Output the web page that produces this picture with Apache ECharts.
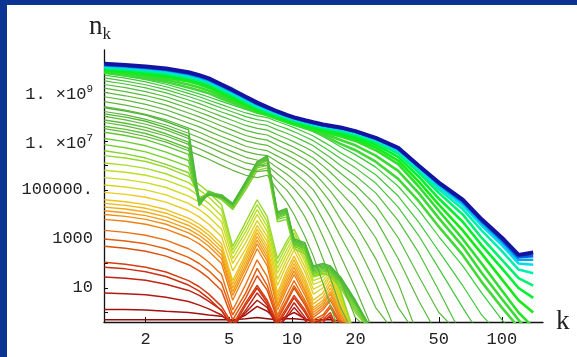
<!DOCTYPE html>
<html><head><meta charset="utf-8">
<script src="https://cdn.jsdelivr.net/npm/echarts@6/dist/echarts.min.js"></script>
<style>
html,body{margin:0;padding:0;background:#0b3493;width:577px;height:357px;overflow:hidden}
#c{position:absolute;left:7px;top:5px;width:570px;height:352px;background:#fff}
</style></head><body><div id="c"></div>
<script>
// wave number k (shared sampling of every curve)
const k = [1.27,1.6,2,2.5,3.2,3.6,4,4.6,5.2,6,6.8,7.6,8.5,9.4,10.2,11.5,12.6,14,15.2,17,20,25,32,40,50,65,80,100,120,141];

// occupation numbers n_k, stored as log10(n_k); curves ordered in time (early -> late)
const redLog10 = [
  [-0.3,-0.3,-0.3,-0.3,-0.3,-0.3,-0.3,-0.3,-0.3,-0.25,-0.2,-0.25,-0.3,-0.25,-0.25,-0.3,-0.3,-0.3,-0.3,-0.35,-1],
  [0.12,0.12,0.1,0.05,0,-0.05,-0.1,-0.15,-0.35,-0.1,0.25,0.05,-0.35,-0.15,0,-0.25,-0.4,-0.3,-0.2,-1],
  [0.8,0.77,0.72,0.62,0.45,0.3,0.15,-0.1,-0.5,0,0.5,0.2,-0.6,-0.2,0.2,-0.3,-1],
  [1.45,1.4,1.32,1.15,0.9,0.7,0.45,0.1,-0.6,0.1,0.8,0.3,-0.6,-0.1,0.4,-0.2,-1],
  [1.85,1.78,1.66,1.47,1.12,0.87,0.57,0.07,-0.6,0.3,1.0,0.4,-0.5,0.1,0.6,0,-0.6,-0.4,-0.1,-1],
  [2.05,1.97,1.85,1.65,1.3,1.05,0.75,0.25,-0.5,0.4,1.1,0.5,-0.4,0.2,0.7,0.1,-0.5,-0.3,0,-1],
  [2.7,2.62,2.5,2.3,1.95,1.7,1.4,0.9,-0.3,0.6,1.5,0.9,-0.3,0.4,1.0,0.3,-0.4,-0.2,0.2,-0.5,-1],
  [3.0,2.92,2.8,2.6,2.25,2.0,1.7,1.2,-0.1,0.8,1.8,1.1,-0.2,0.5,1.1,0.4,-0.3,-0.1,0.3,-0.4,-1]
];
const orangeLog10 = [
  [3.35,3.27,3.15,2.95,2.6,2.35,2.05,1.55,0.1,1.15,2.15,1.45,-0.1,0.7,1.3,0.5,-0.2,0.1,0.5,-0.3,-1],
  [3.8,3.72,3.6,3.4,3.05,2.8,2.5,2.0,0.5,1.6,2.6,1.9,0.1,0.95,1.55,0.7,-0.1,0.2,0.6,-0.2,-1],
  [4.0,3.92,3.8,3.6,3.25,3.0,2.7,2.2,0.7,1.8,2.8,2.1,0.25,1.1,1.7,0.85,0,0.3,0.75,-0.1,-1],
  [4.15,4.07,3.95,3.75,3.4,3.15,2.85,2.35,0.85,1.95,2.95,2.25,0.35,1.25,1.85,0.95,0.1,0.4,0.85,0,-1],
  [4.3,4.22,4.1,3.9,3.55,3.3,3.0,2.5,1.0,2.1,3.1,2.4,0.5,1.4,2.0,1.1,0.2,0.5,1.0,0.05,-1],
  [4.45,4.37,4.25,4.05,3.7,3.45,3.15,2.65,1.15,2.25,3.25,2.55,0.65,1.55,2.15,1.25,0.35,0.65,1.15,0.15,-1],
  [4.6,4.52,4.4,4.2,3.85,3.6,3.3,2.8,1.3,2.4,3.4,2.7,0.8,1.7,2.3,1.4,0.5,0.8,1.3,0.3,-1]
];
const yellowLog10 = [
  [4.9,4.82,4.7,4.5,4.15,3.9,3.6,3.1,1.7,2.6,3.55,2.9,1.1,1.95,2.55,1.65,0.75,1.0,1.45,0.45,-1],
  [5.2,5.12,5.0,4.8,4.45,4.2,3.9,3.4,2.0,2.85,3.75,3.1,1.35,2.15,2.75,1.85,0.95,1.15,1.55,0.55,-1],
  [5.5,5.42,5.3,5.1,4.75,4.5,4.2,3.7,2.2,3.1,4.0,3.3,1.6,2.35,2.95,2.05,1.15,1.3,1.65,0.65,-1],
  [5.8,5.72,5.6,5.4,5.05,4.75,4.45,3.95,2.4,3.3,4.2,3.5,1.8,2.55,3.1,2.2,1.3,1.45,1.75,0.75,-1],
  [6.1,6.01,5.88,5.66,5.3,5.0,4.7,4.2,2.55,3.5,4.4,3.7,2.0,2.75,3.25,2.35,1.45,1.55,1.85,0.85,-1],
  [6.4,6.3,6.16,5.92,5.55,5.22,4.9,4.4,2.7,3.7,4.6,3.9,2.2,2.9,3.4,2.5,1.55,1.65,1.9,0.9,-1]
];
const resonantLog10 = [
  [6.6,6.47,6.3,6.04,5.7,4.7,4.85,4.6,4.2,5.0,5.8,5.9,3.7,3.8,2.6,2.4,1.5,1.6,1.5,1.0,0.0,-1],
  [6.85,6.72,6.55,6.29,5.95,4.6,4.9,4.65,4.25,5.1,5.9,6.0,3.8,3.9,2.7,2.5,1.6,1.7,1.6,1.1,0.1,-1],
  [7.1,6.97,6.8,6.54,6.2,4.5,4.95,4.7,4.3,5.15,5.95,6.1,3.85,4.0,2.75,2.6,1.65,1.75,1.65,1.2,0.2,-1],
  [7.35,7.22,7.05,6.79,6.45,4.4,4.95,4.75,4.35,5.2,6.0,6.2,3.9,4.05,2.8,2.65,1.7,1.8,1.7,1.25,0.3,-1],
  [7.6,7.47,7.3,7.04,6.7,4.35,4.9,4.8,4.4,5.25,6.05,6.25,3.95,4.1,2.85,2.7,1.75,1.85,1.75,1.3,0.35,-1],
  [7.85,7.72,7.55,7.29,6.95,4.4,4.85,4.8,4.45,5.3,6.1,6.3,4.0,4.15,2.9,2.75,1.8,1.9,1.8,1.35,0.4,-1],
  [8.1,7.97,7.8,7.54,7.2,4.5,4.8,4.75,4.45,5.35,6.15,6.35,4.05,4.2,2.95,2.8,1.85,1.95,1.85,1.4,0.45,-1],
  [8.35,8.22,8.05,7.79,7.45,4.6,4.8,4.7,4.4,5.3,6.15,6.4,4.1,4.25,3.0,2.85,1.9,2.0,1.9,1.45,0.5,-1]
];
const oliveLog10 = [
  [7.5,7.36,7.18,6.95,6.6,6.42,6.25,6.0,5.8,5.6,5.5,5.6,5.0,4.5,4.0,3.1,2.3,1.2,0.3,-1],
  [7.75,7.61,7.43,7.2,6.86,6.68,6.5,6.26,6.06,5.85,5.75,5.8,5.35,5.0,4.6,3.9,3.2,2.2,1.4,0.2,-1],
  [8.0,7.86,7.68,7.45,7.1,6.93,6.76,6.52,6.32,6.1,6.0,6.0,5.65,5.35,5.05,4.5,3.95,3.1,2.4,1.3,-0.2,-1],
  [8.2,8.06,7.88,7.65,7.31,7.14,6.97,6.74,6.55,6.33,6.22,6.2,5.9,5.65,5.4,4.95,4.5,3.8,3.2,2.3,1.0,-1],
  [8.4,8.26,8.08,7.86,7.52,7.35,7.18,6.96,6.77,6.56,6.45,6.4,6.15,5.92,5.72,5.35,5.0,4.4,3.9,3.1,2.0,0.2,-1],
  [8.6,8.46,8.29,8.06,7.73,7.57,7.4,7.18,7.0,6.78,6.67,6.6,6.38,6.18,6.0,5.7,5.4,4.9,4.5,3.8,2.9,1.2,-1],
  [8.8,8.66,8.49,8.27,7.94,7.78,7.62,7.4,7.22,7.0,6.89,6.82,6.6,6.42,6.26,5.98,5.72,5.3,4.95,4.4,3.6,2.2,0.2,-1],
  [8.98,8.84,8.68,8.46,8.14,7.98,7.82,7.61,7.43,7.22,7.1,7.03,6.82,6.65,6.5,6.25,6.02,5.65,5.35,4.9,4.25,3.05,1.2,-1],
  [9.15,9.01,8.85,8.64,8.33,8.17,8.02,7.81,7.64,7.43,7.31,7.24,7.04,6.88,6.74,6.5,6.3,5.98,5.72,5.32,4.78,3.8,2.2,0.5,-1],
  [9.3,9.17,9.01,8.8,8.5,8.35,8.2,8.0,7.83,7.63,7.51,7.44,7.25,7.1,6.96,6.74,6.56,6.27,6.03,5.68,5.2,4.38,3.05,1.5,0,-1],
  [9.45,9.32,9.16,8.96,8.67,8.52,8.37,8.18,8.02,7.82,7.7,7.63,7.45,7.31,7.18,6.97,6.8,6.53,6.32,6.0,5.58,4.88,3.75,2.45,0.9,-1],
  [9.57,9.44,9.29,9.09,8.81,8.67,8.53,8.34,8.18,7.99,7.87,7.8,7.63,7.5,7.37,7.17,7.01,6.76,6.57,6.28,5.9,5.28,4.3,3.15,1.8,0.2,-1],
  [9.68,9.56,9.41,9.21,8.94,8.8,8.66,8.48,8.32,8.14,8.02,7.95,7.79,7.66,7.54,7.35,7.2,6.97,6.79,6.52,6.17,5.62,4.75,3.7,2.5,1.1,-0.1,-1],
  [9.76,9.64,9.5,9.31,9.05,8.92,8.79,8.61,8.46,8.28,8.17,8.1,7.94,7.82,7.71,7.53,7.39,7.18,7.01,6.76,6.44,5.93,5.15,4.2,3.1,1.9,0.8,-0.3,-1]
];
const lateLog10 = [
  [9.78,9.67,9.55,9.4,9.18,9.06,8.94,8.72,8.54,8.32,8.15,8.06,7.9,7.78,7.68,7.52,7.4,7.22,7.08,6.88,6.62,6.15,5.45,4.55,3.5,2.35,1.25,0.2,-0.6,-1],
  [9.8,9.72,9.62,9.49,9.3,9.18,9.05,8.81,8.61,8.37,8.18,8.06,7.9,7.77,7.67,7.53,7.43,7.29,7.19,7.04,6.82,6.4,5.78,4.88,3.85,2.7,1.62,0.55,-0.3,-1],
  [9.82,9.76,9.68,9.58,9.42,9.3,9.16,8.9,8.68,8.42,8.2,8.05,7.9,7.77,7.67,7.54,7.45,7.35,7.28,7.18,7.0,6.62,6.05,5.15,4.15,3.0,2.0,0.9,0.0,-0.6],
  [9.87,9.81,9.73,9.63,9.47,9.35,9.21,8.96,8.74,8.48,8.26,8.1,7.95,7.82,7.72,7.59,7.5,7.41,7.34,7.25,7.08,6.74,6.2,5.35,4.4,3.35,2.4,1.35,0.5,0.0],
  [9.92,9.86,9.78,9.69,9.53,9.41,9.28,9.03,8.81,8.54,8.31,8.15,8.0,7.87,7.77,7.64,7.56,7.47,7.41,7.32,7.16,6.85,6.35,5.55,4.65,3.7,2.75,1.8,1.0,0.6],
  [9.97,9.91,9.83,9.74,9.58,9.46,9.33,9.08,8.86,8.59,8.36,8.2,8.05,7.92,7.82,7.7,7.62,7.53,7.47,7.39,7.24,6.95,6.48,5.72,4.88,4.0,3.05,2.15,1.4,1.1],
  [10.01,9.95,9.88,9.79,9.63,9.51,9.38,9.13,8.91,8.64,8.4,8.24,8.09,7.96,7.86,7.74,7.66,7.57,7.52,7.44,7.3,7.02,6.56,5.82,5.03,4.22,3.35,2.5,1.75,1.6],
  [10.05,9.99,9.92,9.84,9.68,9.56,9.43,9.18,8.96,8.69,8.45,8.28,8.12,7.99,7.89,7.77,7.69,7.6,7.55,7.48,7.34,7.06,6.62,5.9,5.15,4.38,3.55,2.75,2.0,1.95],
  [10.08,10.03,9.96,9.88,9.72,9.6,9.47,9.22,9.0,8.73,8.49,8.32,8.15,8.02,7.92,7.8,7.72,7.63,7.58,7.51,7.37,7.09,6.66,5.95,5.22,4.48,3.67,2.88,2.15,2.15],
  [10.11,10.06,9.99,9.91,9.76,9.64,9.51,9.26,9.04,8.76,8.52,8.35,8.18,8.04,7.94,7.82,7.74,7.65,7.6,7.53,7.39,7.11,6.69,5.98,5.27,4.55,3.75,2.97,2.26,2.3],
  [10.15,10.1,10.03,9.95,9.8,9.68,9.55,9.3,9.08,8.8,8.56,8.38,8.2,8.06,7.96,7.84,7.76,7.67,7.62,7.55,7.4,7.12,6.72,6.0,5.3,4.6,3.8,3.05,2.35,2.45]
];

// axis ticks and labels
const xTickValues = [2,5,10,20,50,100];
const yTickValues = [10,1000,100000,1e7,1e9];
const yTickLabels = ['10','1000','100000.','1. \u00d710^7','1. \u00d710^9'];
const yTickMarks = [1,10,100,1000,1e4,1e5,1e6,1e7,1e8,1e9,1e10];

// line styles (colour per curve, time ordered red -> blue)
const styles = [
  {curves: redLog10, width: 1.5, colors: ['#8e0a0a','#a01212','#b21a14','#c02414','#cc3012','#d63e10','#de5010','#e46010']},
  {curves: orangeLog10, width: 1.4, colors: ['#ea7012','#ee8014','#f08e16','#f29c18','#f2aa1a','#f0b61c','#eec21e']},
  {curves: yellowLog10, width: 1.4, colors: ['#e8cc20','#dcd422','#cedc24','#bcdf26','#a8dd28','#96d82a']},
  {curves: resonantLog10, width: 1.4, colors: ['#84d42c','#76d02e','#6ccc30','#62c832','#5ac434','#54c036','#50bc38','#4cb83a']},
  {curves: oliveLog10, width: 1.2, colors: ['#62b43c','#62b43c','#62b43c','#62b43c','#60b63c','#60b63c','#5eb83c','#5eb83c','#5aba3c','#56bc3c','#50c03c','#48c43c','#40c83a','#38cc38']},
  {curves: lateLog10, width: 2.6, colors: ['#44d83a','#3adc34','#2ee02e','#16ea16','#00f030','#00f070','#00eeb0','#00dcea','#00a8f0','#0060e0','#1414a0']}
];

const series = [];
styles.forEach((g, gi) => g.curves.forEach((c, i) => {
  const late = gi === styles.length - 1;
  const n = g.curves.length;
  series.push({
    type: 'line', symbol: 'none', silent: true, animation: false,
    data: c.map((v, j) => [k[j], Math.pow(10, v)]),
    lineStyle: {color: g.colors[i], width: late && i === n - 1 ? 4 : (late && i === n - 2 ? 3 : g.width)}
  });
}));

const mono = 'Liberation Mono';
const serif = 'Liberation Serif';
const chart = echarts.init(document.getElementById('c'), null, {renderer: 'canvas'});
chart.setOption({
  animation: false,
  backgroundColor: '#ffffff',
  grid: {left: 97, top: 45, right: 34, bottom: 35},
  xAxis: {
    type: 'log', logBase: 10, min: 1.265, max: 157,
    axisLine: {lineStyle: {color: '#111', width: 1.3}},
    axisTick: {inside: true, length: 5, customValues: xTickValues, lineStyle: {color: '#111'}},
    axisLabel: {customValues: xTickValues, fontFamily: mono, fontSize: 17, color: '#222', margin: 9},
    splitLine: {show: false}, minorTick: {show: false},
    name: 'k', nameLocation: 'end', nameGap: 13,
    nameTextStyle: {fontFamily: serif, fontSize: 27, color: '#222', verticalAlign: 'middle', padding: [0, 0, 8, 0]}
  },
  yAxis: {
    type: 'log', logBase: 10, min: 0.41, max: 5.1e10,
    axisLine: {lineStyle: {color: '#111', width: 1.3}},
    axisTick: {inside: true, length: 4, customValues: yTickMarks, lineStyle: {color: '#111'}},
    axisLabel: {
      customValues: yTickValues, fontFamily: mono, fontSize: 17, color: '#222', margin: 11,
      formatter: function (v) {
        const e = Math.round(Math.log10(v));
        const idx = yTickValues.findIndex(t => Math.round(Math.log10(t)) === e);
        const s = yTickLabels[idx] || '';
        if (s.indexOf('^') >= 0) {
          const p = s.split('^');
          return '{p|' + p[0] + '}{s|' + p[1] + '}';
        }
        return '{m|' + s + '}';
      },
      rich: {
        m: {fontFamily: mono, fontSize: 17, color: '#222', lineHeight: 17, padding: [0, 0, 4, 0], verticalAlign: 'top'},
        p: {fontFamily: mono, fontSize: 17, color: '#222', lineHeight: 17, padding: [3, 0, 8, 0], verticalAlign: 'top'},
        s: {fontFamily: mono, fontSize: 11, color: '#222', lineHeight: 11, verticalAlign: 'top'}
      }
    },
    splitLine: {show: false}, minorTick: {show: false},
    name: '{n|n}{s|k}', nameLocation: 'end', nameGap: 7,
    nameTextStyle: {
      align: 'center', padding: [0, 8, 0, 0],
      rich: {
        n: {fontFamily: serif, fontSize: 27, color: '#222', lineHeight: 30, verticalAlign: 'top'},
        s: {fontFamily: serif, fontSize: 17, color: '#222', lineHeight: 30, verticalAlign: 'bottom'}
      }
    }
  },
  series: series
});
</script>
</body></html>
